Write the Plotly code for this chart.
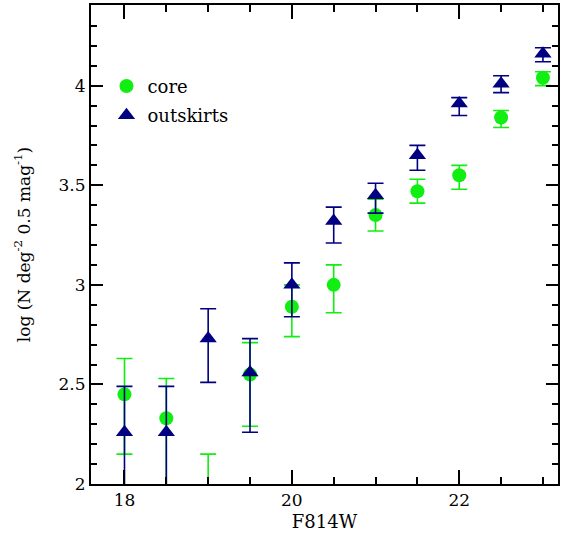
import plotly.graph_objects as go

mag = [18, 18.5, 19, 19.5, 20, 20.5, 21, 21.5, 22, 22.5, 23]
core_y = [2.45, 2.33, 1.90, 2.55, 2.89, 3.00, 3.35, 3.47, 3.55, 3.84, 4.04]
core_hi = [2.63, 2.53, 2.15, 2.71, 3.00, 3.10, 3.43, 3.53, 3.60, 3.875, 4.07]
core_lo = [2.15, 1.90, 1.50, 2.29, 2.74, 2.86, 3.27, 3.41, 3.48, 3.79, 4.00]
out_y = [2.26, 2.26, 2.73, 2.56, 3.00, 3.32, 3.45, 3.65, 3.91, 4.01, 4.16]
out_hi = [2.49, 2.49, 2.88, 2.73, 3.11, 3.39, 3.51, 3.70, 3.94, 4.05, 4.19]
out_lo = [1.80, 1.80, 2.51, 2.26, 2.84, 3.21, 3.36, 3.575, 3.85, 3.965, 4.12]

GREEN = "#11ee11"
NAVY = "#000080"
FONT = "DejaVu Serif"

fig = go.Figure()
fig.add_trace(go.Scatter(
    x=mag, y=core_y, mode="markers", name="core", legendgroup="core",
    marker=dict(symbol="circle", size=14, color=GREEN),
    error_y=dict(type="data", symmetric=False,
                 array=[h - v for h, v in zip(core_hi, core_y)],
                 arrayminus=[v - l for v, l in zip(core_y, core_lo)],
                 color=GREEN, thickness=1.6, width=8),
))
fig.add_trace(go.Scatter(
    x=mag, y=out_y, mode="markers", name="outskirts", legendgroup="out",
    marker=dict(symbol="triangle-up", size=15, color=NAVY),
    error_y=dict(type="data", symmetric=False,
                 array=[h - v for h, v in zip(out_hi, out_y)],
                 arrayminus=[v - l for v, l in zip(out_y, out_lo)],
                 color=NAVY, thickness=1.6, width=8),
))

axis_common = dict(showline=True, linecolor="black", linewidth=2, mirror="allticks",
                   ticks="inside", tickcolor="black", showgrid=False, zeroline=False,
                   automargin=False,
                   tickfont=dict(family=FONT, size=17, color="black"))

fig.update_xaxes(range=[17.6, 23.18], tick0=18, dtick=2, ticklen=14, tickwidth=1.5,
                 minor=dict(dtick=0.5, tick0=18, ticklen=7, ticks="inside", tickcolor="black", tickwidth=1.5),
                 title=dict(text="F814W", font=dict(family=FONT, size=18, color="black"), standoff=6),
                 **axis_common)
fig.update_yaxes(range=[2.0, 4.405], tick0=2, dtick=0.5, ticklen=12, tickwidth=1.5,
                 minor=dict(dtick=0.1, tick0=2, ticklen=6, ticks="inside", tickcolor="black", tickwidth=1.5),
                 title=dict(text="log (N deg<sup>-2</sup> 0.5 mag<sup>-1</sup>)",
                            font=dict(family=FONT, size=17, color="black"), standoff=24),
                 **axis_common)

fig.update_layout(
    width=562, height=539,
    margin=dict(l=91, r=4, t=5, b=55),
    paper_bgcolor="white", plot_bgcolor="white",
    showlegend=True,
    legend=dict(x=0.031, y=0.869, xanchor="left", yanchor="top",
                font=dict(family=FONT, size=18, color="black"),
                bgcolor="rgba(0,0,0,0)", tracegroupgap=3, itemwidth=32),
)

fig.write_html("out.html", config={"displayModeBar": False},
               post_script="document.body.style.margin='0';")
